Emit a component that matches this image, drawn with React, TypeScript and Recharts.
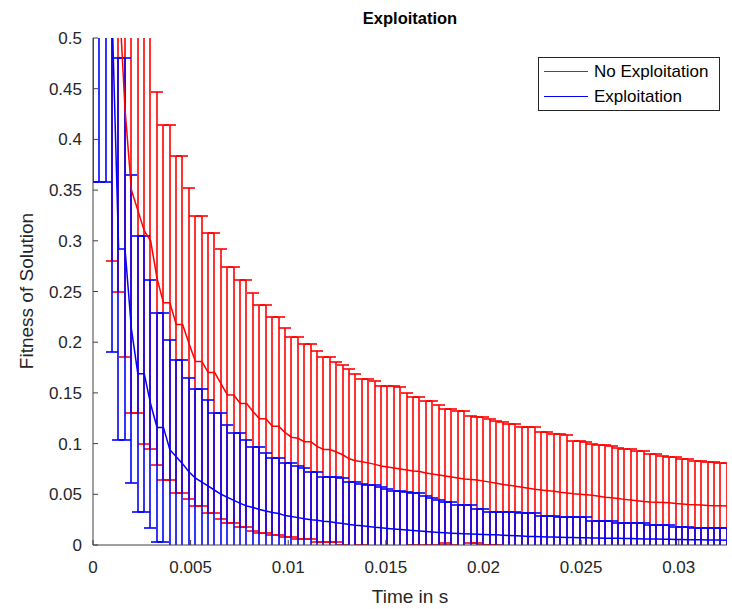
import React from 'react';
import { ComposedChart, Line, Bar, XAxis, YAxis } from 'recharts';

// sample times in microseconds
const timeUs = [
  0, 328, 656, 984, 1312, 1640, 1968, 2296, 2624, 2952,
  3280, 3608, 3936, 4264, 4592, 4920, 5248, 5576, 5904, 6232,
  6560, 6888, 7216, 7544, 7872, 8200, 8528, 8856, 9184, 9512,
  9840, 10168, 10496, 10824, 11152, 11480, 11808, 12136, 12464, 12792,
  13120, 13448, 13776, 14104, 14432, 14760, 15088, 15416, 15744, 16072,
  16400, 16728, 17056, 17384, 17712, 18040, 18368, 18696, 19024, 19352,
  19680, 20008, 20336, 20664, 20992, 21320, 21648, 21976, 22304, 22632,
  22960, 23288, 23616, 23944, 24272, 24600, 24928, 25256, 25584, 25912,
  26240, 26568, 26896, 27224, 27552, 27880, 28208, 28536, 28864, 29192,
  29520, 29848, 30176, 30504, 30832, 31160, 31488, 31816, 32144, 32472,
];

// mean fitness without exploitation
const noExploitMean = [
  0.95, 0.85, 0.72, 0.62, 0.55, 0.43, 0.35, 0.33, 0.31, 0.3,
  0.263, 0.239, 0.239, 0.2175, 0.2175, 0.1985, 0.181, 0.181, 0.17, 0.17,
  0.159, 0.148, 0.148, 0.1395, 0.1395, 0.1315, 0.1245, 0.1245, 0.1172, 0.1172,
  0.1108, 0.1063, 0.1053, 0.1018, 0.1018, 0.0972, 0.0942, 0.0942, 0.0917, 0.089,
  0.085, 0.083, 0.082, 0.081, 0.0795, 0.078, 0.077, 0.076, 0.075, 0.074,
  0.073, 0.0725, 0.071, 0.07, 0.069, 0.068, 0.067, 0.066, 0.065, 0.0645,
  0.064, 0.063, 0.062, 0.061, 0.0597, 0.059, 0.058, 0.057, 0.056, 0.055,
  0.0543, 0.0536, 0.053, 0.052, 0.0512, 0.0505, 0.05, 0.0495, 0.049, 0.048,
  0.047, 0.0465, 0.0458, 0.045, 0.0443, 0.0437, 0.043, 0.0425, 0.0422, 0.042,
  0.0417, 0.041, 0.0405, 0.04, 0.0397, 0.0394, 0.039, 0.0388, 0.0386, 0.0384,
];

// standard deviation without exploitation
const noExploitStd = [
  0.4, 0.33, 0.21, 0.34, 0.3, 0.245, 0.22, 0.2, 0.21, 0.205,
  0.184, 0.175, 0.175, 0.1665, 0.1665, 0.1535, 0.143, 0.143, 0.138, 0.138,
  0.133, 0.126, 0.126, 0.1215, 0.1215, 0.1175, 0.1125, 0.1125, 0.1073, 0.1073,
  0.1032, 0.0987, 0.0997, 0.0962, 0.0962, 0.0938, 0.0908, 0.0908, 0.0883, 0.089,
  0.089, 0.086, 0.082, 0.083, 0.0825, 0.079, 0.08, 0.081, 0.0805, 0.076,
  0.0726, 0.0731, 0.0713, 0.0723, 0.069, 0.066, 0.067, 0.0665, 0.0675, 0.063,
  0.062, 0.063, 0.062, 0.061, 0.0619, 0.06, 0.061, 0.0597, 0.0607, 0.0617,
  0.0574, 0.0581, 0.0565, 0.0575, 0.0568, 0.0525, 0.053, 0.0525, 0.051, 0.051,
  0.052, 0.0511, 0.0502, 0.0494, 0.0501, 0.049, 0.0497, 0.0472, 0.0475, 0.046,
  0.0448, 0.0455, 0.044, 0.0445, 0.0433, 0.0436, 0.043, 0.0432, 0.0424, 0.0426,
];

// mean fitness with exploitation
const exploitMean = [
  0.75, 0.68, 0.6, 0.52, 0.292, 0.292, 0.213, 0.169, 0.169, 0.139,
  0.116, 0.116, 0.094, 0.087, 0.08, 0.072, 0.066, 0.062, 0.058, 0.054,
  0.05, 0.047, 0.044, 0.041, 0.0385, 0.037, 0.035, 0.0335, 0.032, 0.031,
  0.029, 0.028, 0.027, 0.026, 0.025, 0.0243, 0.0235, 0.023, 0.022, 0.0212,
  0.0202, 0.0195, 0.019, 0.0182, 0.0175, 0.017, 0.0163, 0.0157, 0.0152, 0.0147,
  0.0142, 0.0138, 0.0133, 0.0128, 0.0124, 0.012, 0.0117, 0.0113, 0.011, 0.0108,
  0.0106, 0.0104, 0.0102, 0.01, 0.0097, 0.0094, 0.0091, 0.0088, 0.0085, 0.0083,
  0.0082, 0.008, 0.0078, 0.0077, 0.0075, 0.0073, 0.0072, 0.0071, 0.007, 0.0068,
  0.0067, 0.0066, 0.0066, 0.0064, 0.0063, 0.0062, 0.006, 0.0059, 0.0058, 0.0057,
  0.0056, 0.0055, 0.0054, 0.0053, 0.0052, 0.0051, 0.005, 0.0049, 0.0049, 0.0048,
];

// standard deviation with exploitation
const exploitStd = [
  0.392, 0.322, 0.242, 0.33, 0.188, 0.188, 0.152, 0.136, 0.136, 0.122,
  0.113, 0.113, 0.1085, 0.095, 0.102, 0.093, 0.0876, 0.0916, 0.085, 0.076,
  0.08, 0.071, 0.0668, 0.0698, 0.0651, 0.0593, 0.0613, 0.0569, 0.0535, 0.0545,
  0.0516, 0.0526, 0.051, 0.0496, 0.0473, 0.048, 0.0439, 0.0444, 0.0454, 0.0446,
  0.0423, 0.043, 0.0415, 0.0408, 0.0415, 0.04, 0.0387, 0.0379, 0.0384, 0.0373,
  0.0368, 0.0372, 0.0347, 0.0332, 0.0316, 0.0308, 0.0303, 0.0282, 0.0285, 0.0287,
  0.0246, 0.0248, 0.0227, 0.0229, 0.0232, 0.0235, 0.0238, 0.0224, 0.0227, 0.0229,
  0.0204, 0.0206, 0.0208, 0.0196, 0.0198, 0.02, 0.0201, 0.0202, 0.017, 0.0172,
  0.0173, 0.0174, 0.0154, 0.0156, 0.0157, 0.0158, 0.016, 0.0138, 0.0139, 0.014,
  0.0141, 0.0125, 0.0126, 0.0127, 0.0113, 0.0114, 0.0115, 0.0116, 0.0116, 0.0117,
];

const xTicks = [0, 0.005, 0.01, 0.015, 0.02, 0.025, 0.03];
const yTicks = [0, 0.05, 0.1, 0.15, 0.2, 0.25, 0.3, 0.35, 0.4, 0.45, 0.5];
const xMax = 0.032472;

const data = timeUs.map((us, i) => ({
  t: us / 1e6,
  noExp: noExploitMean[i],
  noExpRange: [noExploitMean[i] - noExploitStd[i], noExploitMean[i] + noExploitStd[i]],
  exp: exploitMean[i],
  expRange: [exploitMean[i] - exploitStd[i], exploitMean[i] + exploitStd[i]],
}));

const FONT = '"Liberation Sans", Arial, Helvetica, sans-serif';
const AXIS = '#404040';
const TEXT = '#262626';
const CAP = 6; // half width of the whisker caps, px

// range bar drawn as an errorbar: stem plus a cap at each end
const whisker = (color: string) => (props: any) => {
  const { x, y, width, height } = props;
  if (x == null || y == null) return <g />;
  const cx = Math.round(x + width / 2);
  const top = Math.round(Math.min(y, y + height));
  const bottom = Math.round(Math.max(y, y + height));
  return (
    <g stroke={color} strokeWidth={1.6} fill="none">
      <line x1={cx} x2={cx} y1={top} y2={bottom} />
      <line x1={cx - CAP} x2={cx + CAP} y1={top} y2={top} />
      <line x1={cx - CAP} x2={cx + CAP} y1={bottom} y2={bottom} />
    </g>
  );
};

const App: React.FC = () => {
  return (
    <div style={{ position: 'absolute', left: 0, top: 0, width: 732, height: 609, background: '#fff', fontFamily: FONT }}>
      <ComposedChart width={732} height={609} data={data} margin={{ top: 38, right: 5, bottom: 34, left: 0 }}>
        <XAxis
          type="number"
          dataKey="t"
          domain={[0, xMax]}
          ticks={xTicks}
          interval={0}
          allowDataOverflow
          height={30}
          tickSize={-5}
          tickMargin={21}
          stroke={AXIS}
          tick={{ fill: TEXT, fontSize: 17, fontFamily: FONT }}
          tickFormatter={(v: number) => String(v)}
        />
        <XAxis
          xAxisId="top"
          orientation="top"
          type="number"
          dataKey="t"
          domain={[0, xMax]}
          ticks={xTicks}
          interval={0}
          allowDataOverflow
          height={0}
          tickSize={-5}
          tick={false}
          stroke={AXIS}
        />
        <YAxis
          type="number"
          domain={[0, 0.5]}
          ticks={yTicks}
          interval={0}
          allowDataOverflow
          width={93}
          tickSize={-5}
          tickMargin={16}
          stroke={AXIS}
          tick={{ fill: TEXT, fontSize: 17, fontFamily: FONT }}
          tickFormatter={(v: number) => String(v)}
        />
        <YAxis
          yAxisId="right"
          orientation="right"
          type="number"
          domain={[0, 0.5]}
          ticks={yTicks}
          interval={0}
          allowDataOverflow
          width={0}
          tickSize={-5}
          tick={false}
          stroke={AXIS}
        />
        <Bar
          dataKey="noExpRange"
          barSize={4}
          shape={whisker('#ff0000')}
          isAnimationActive={false}
        />
        <Line
          dataKey="noExp"
          name="No Exploitation"
          stroke="#ff0000"
          strokeWidth={1.5}
          dot={false}
          activeDot={false}
          isAnimationActive={false}
        />
        <Bar
          xAxisId="top"
          dataKey="expRange"
          barSize={4}
          shape={whisker('#0000ff')}
          isAnimationActive={false}
        />
        <Line
          dataKey="exp"
          name="Exploitation"
          stroke="#0000ff"
          strokeWidth={1.5}
          dot={false}
          activeDot={false}
          isAnimationActive={false}
        />
      </ComposedChart>

      <div
        style={{
          position: 'absolute', left: 93, top: 7, width: 634, textAlign: 'center',
          fontSize: 16.5, fontWeight: 'bold', color: '#000', lineHeight: '22px',
        }}
      >
        Exploitation
      </div>
      <div
        style={{
          position: 'absolute', left: 93, top: 586, width: 634, textAlign: 'center',
          fontSize: 19, color: TEXT, lineHeight: '22px',
        }}
      >
        Time in s
      </div>
      <div
        style={{
          position: 'absolute', left: 27, top: 291, transform: 'translate(-50%, -50%) rotate(-90deg)',
          whiteSpace: 'nowrap', fontSize: 19, color: TEXT, lineHeight: '22px',
        }}
      >
        Fitness of Solution
      </div>

      {/* legend box */}
      <div
        style={{
          position: 'absolute', left: 538, top: 57, width: 180, height: 52,
          border: `1px solid ${TEXT}`, background: '#fff', fontSize: 17, color: '#000',
        }}
      >
        <div style={{ position: 'absolute', left: 5, top: 13, width: 44, borderTop: '1.5px solid #ff0000' }} />
        <div style={{ position: 'absolute', left: 55, top: 4, lineHeight: '20px', whiteSpace: 'nowrap' }}>No Exploitation</div>
        <div style={{ position: 'absolute', left: 5, top: 38, width: 44, borderTop: '1.5px solid #0000ff' }} />
        <div style={{ position: 'absolute', left: 55, top: 29, lineHeight: '20px', whiteSpace: 'nowrap' }}>Exploitation</div>
      </div>
    </div>
  );
};

export default App;
